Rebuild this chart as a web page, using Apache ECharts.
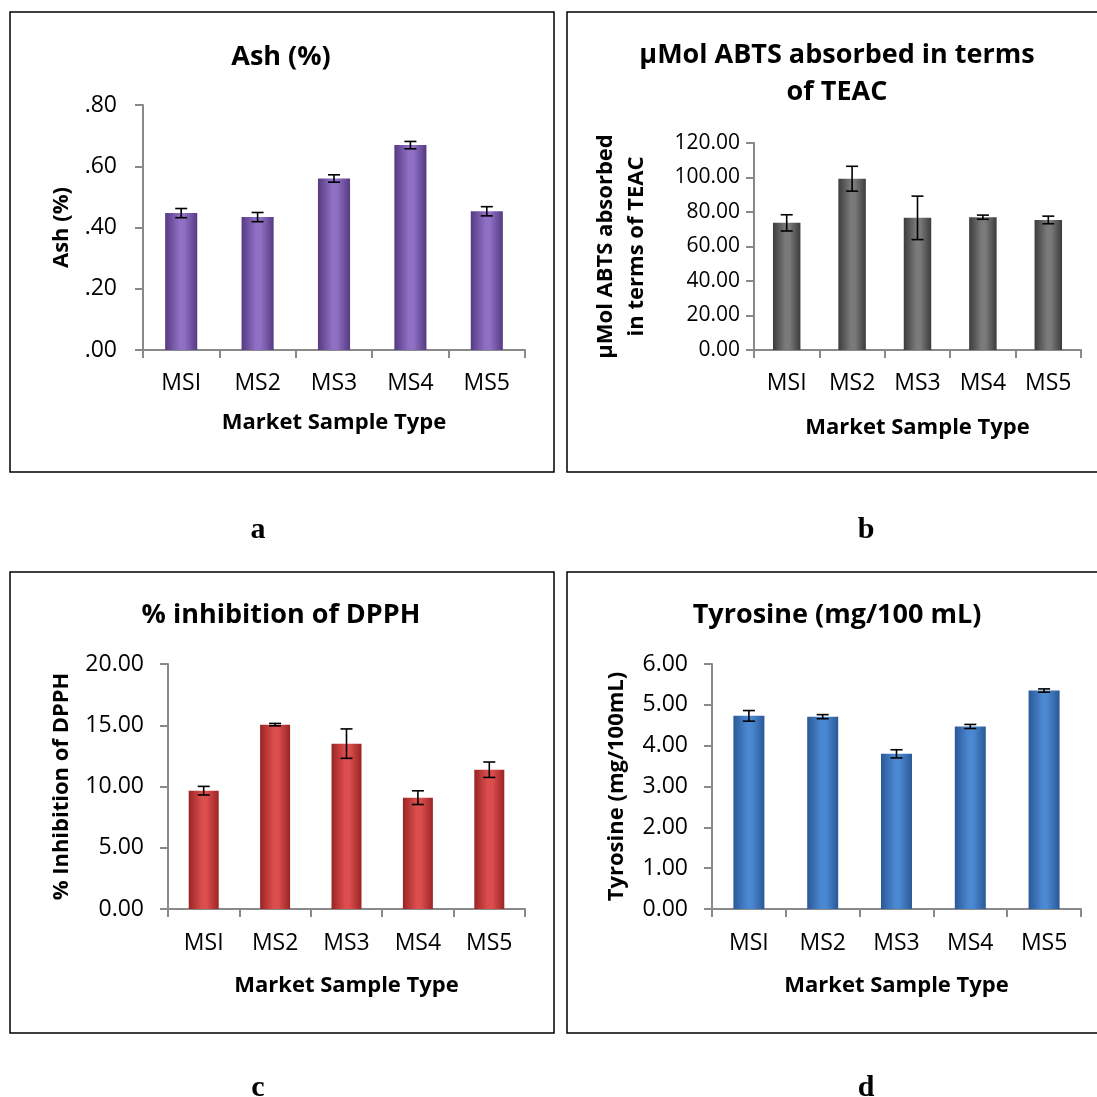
<!DOCTYPE html>
<html><head><meta charset="utf-8">
<script src="https://cdn.jsdelivr.net/npm/echarts@6/dist/echarts.min.js"></script>
<style>html,body{margin:0;padding:0;background:#fff}#c{width:1097px;height:1097px}</style>
</head><body><div id="c"></div>
<script>
const categories = ['MSI', 'MS2', 'MS3', 'MS4', 'MS5'];
const ashValues = [0.447, 0.434, 0.560, 0.669, 0.453];
const ashErrors = [0.015, 0.015, 0.012, 0.012, 0.015];
const abtsValues = [73.7, 99.3, 76.6, 77.0, 75.4];
const abtsErrors = [4.7, 7.2, 12.6, 1.2, 2.2];
const dpphValues = [9.66, 15.05, 13.5, 9.09, 11.37];
const dpphErrors = [0.35, 0.1, 1.2, 0.56, 0.63];
const tyrValues = [4.73, 4.71, 3.80, 4.47, 5.35];
const tyrErrors = [0.13, 0.05, 0.10, 0.05, 0.04];
const panelLetters = ['a', 'b', 'c', 'd'];

const FONT = '"Open Sans", sans-serif';
const panels = [
  {title: 'Ash (%)', yName: 'Ash (%)', values: ashValues, errors: ashErrors, max: 0.8, interval: 0.2,
   fmt: v => v.toFixed(2).replace(/^0/, ''), edge: '#553a82', mid: '#8f70c4',
   grid: {left: 143, right: 572, top: 105, bottom: 747}, yGap: 66, xGap: 62, tickSize: 23, tickMargin: 26, xMargin: 22,
   titleX: 276, titleY: 34},
  {title: 'µMol ABTS absorbed in terms\nof TEAC', yName: 'µMol ABTS absorbed\nin terms of TEAC', values: abtsValues, errors: abtsErrors, max: 120, interval: 20,
   fmt: v => v.toFixed(2), edge: '#3c3c3c', mid: '#7a7a7a',
   grid: {left: 754, right: 16, top: 143, bottom: 747}, yGap: 102, xGap: 67, tickSize: 21, tickMargin: 14, xMargin: 22,
   titleX: 832, titleY: 32},
  {title: '% inhibition of DPPH', yName: '% Inhibition of DPPH', values: dpphValues, errors: dpphErrors, max: 20, interval: 5,
   fmt: v => v.toFixed(2), edge: '#9a2424', mid: '#dc4e4e',
   grid: {left: 168, right: 572, top: 664, bottom: 188}, yGap: 91, xGap: 66, tickSize: 23, tickMargin: 24, xMargin: 23,
   titleX: 276, titleY: 592},
  {title: 'Tyrosine (mg/100 mL)', yName: 'Tyrosine (mg/100mL)', values: tyrValues, errors: tyrErrors, max: 6, interval: 1,
   fmt: v => v.toFixed(2), edge: '#2a5896', mid: '#4b88d2',
   grid: {left: 712, right: 16, top: 664, bottom: 188}, yGap: 80, xGap: 66, tickSize: 23, tickMargin: 24, xMargin: 23,
   titleX: 832, titleY: 592}
];

const axisColor = '#898989';
const option = {
  animation: false,
  backgroundColor: '#fff',
  title: panels.map(p => ({
    text: p.title, left: p.titleX, top: p.titleY, textAlign: 'center',
    textStyle: {fontFamily: FONT, fontWeight: 'bold', fontSize: 27, color: '#000', lineHeight: 37}
  })),
  grid: panels.map(p => Object.assign({containLabel: false}, p.grid)),
  xAxis: panels.map((p, i) => ({
    type: 'category', gridIndex: i, data: categories,
    name: 'Market Sample Type', nameLocation: 'middle', nameGap: p.xGap,
    nameTextStyle: {fontFamily: FONT, fontWeight: 'bold', fontSize: 22, color: '#000'},
    axisLine: {lineStyle: {color: axisColor, width: 2}},
    axisTick: {show: true, alignWithLabel: false, length: 8, lineStyle: {color: axisColor, width: 2}},
    axisLabel: {fontFamily: FONT, fontSize: 23, color: '#000', margin: p.xMargin}
  })),
  yAxis: panels.map((p, i) => ({
    type: 'value', gridIndex: i, min: 0, max: p.max, interval: p.interval,
    name: p.yName, nameLocation: 'middle', nameGap: p.yGap, nameRotate: 90,
    nameTextStyle: {fontFamily: FONT, fontWeight: 'bold', fontSize: 22, color: '#000', lineHeight: 31},
    axisLine: {show: true, lineStyle: {color: axisColor, width: 2}},
    axisTick: {show: true, length: 8, lineStyle: {color: axisColor, width: 2}},
    splitLine: {show: false},
    axisLabel: {fontFamily: FONT, fontSize: p.tickSize, color: '#000', margin: p.tickMargin, formatter: p.fmt}
  })),
  series: [].concat(...panels.map((p, i) => [
    {
      type: 'bar', xAxisIndex: i, yAxisIndex: i, data: p.values, barCategoryGap: '58%',
      itemStyle: {
        color: new echarts.graphic.LinearGradient(0, 0, 1, 0, [
          {offset: 0, color: p.edge}, {offset: 0.45, color: p.mid}, {offset: 0.6, color: p.mid}, {offset: 1, color: p.edge}
        ])
      }
    },
    {
      type: 'custom', xAxisIndex: i, yAxisIndex: i, z: 10,
      data: p.values.map((v, k) => [k, v - p.errors[k], v + p.errors[k]]),
      renderItem: function (params, api) {
        const lo = api.coord([api.value(0), api.value(1)]);
        const hi = api.coord([api.value(0), api.value(2)]);
        const w = 6;
        const st = {stroke: '#000', lineWidth: 1.6};
        return {type: 'group', children: [
          {type: 'line', shape: {x1: hi[0], y1: hi[1], x2: lo[0], y2: lo[1]}, style: st},
          {type: 'line', shape: {x1: hi[0] - w, y1: hi[1], x2: hi[0] + w, y2: hi[1]}, style: st},
          {type: 'line', shape: {x1: lo[0] - w, y1: lo[1], x2: lo[0] + w, y2: lo[1]}, style: st}
        ]};
      }
    }
  ])),
  graphic: [
    {type: 'rect', shape: {x: 10, y: 12, width: 544, height: 460}, style: {fill: 'none', stroke: '#000', lineWidth: 1.5}},
    {type: 'rect', shape: {x: 567, y: 12, width: 540, height: 460}, style: {fill: 'none', stroke: '#000', lineWidth: 1.5}},
    {type: 'rect', shape: {x: 10, y: 572, width: 544, height: 461}, style: {fill: 'none', stroke: '#000', lineWidth: 1.5}},
    {type: 'rect', shape: {x: 567, y: 572, width: 540, height: 461}, style: {fill: 'none', stroke: '#000', lineWidth: 1.5}},
    {type: 'text', x: 258, y: 530, style: {text: panelLetters[0], font: 'bold 30px "Liberation Serif", serif', fill: '#000', textAlign: 'center', textVerticalAlign: 'middle'}},
    {type: 'text', x: 866, y: 530, style: {text: panelLetters[1], font: 'bold 30px "Liberation Serif", serif', fill: '#000', textAlign: 'center', textVerticalAlign: 'middle'}},
    {type: 'text', x: 258, y: 1088, style: {text: panelLetters[2], font: 'bold 30px "Liberation Serif", serif', fill: '#000', textAlign: 'center', textVerticalAlign: 'middle'}},
    {type: 'text', x: 866, y: 1088, style: {text: panelLetters[3], font: 'bold 30px "Liberation Serif", serif', fill: '#000', textAlign: 'center', textVerticalAlign: 'middle'}}
  ]
};
const chart = echarts.init(document.getElementById('c'), null, {renderer: 'canvas'});
chart.setOption(option);
</script></body></html>
